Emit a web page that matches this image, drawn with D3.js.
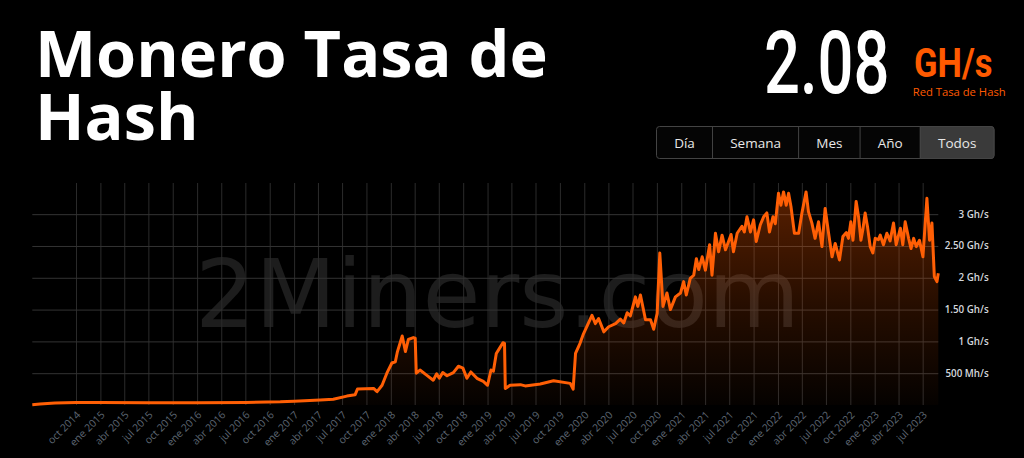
<!DOCTYPE html>
<html><head><meta charset="utf-8">
<script src="https://cdn.jsdelivr.net/npm/d3@7"></script>
<style>html,body{margin:0;padding:0;background:#000;overflow:hidden}</style>
</head><body>
<svg id="c" width="1024" height="458"></svg>
<script>
// ---------------- DATA ----------------
const titleLines = ["Monero Tasa de", "Hash"];
const currentValue = "2.08";
const currentUnit = "GH/s";
const subtitle = "Red Tasa de Hash";
const periods = ["Día", "Semana", "Mes", "Año", "Todos"];
const activePeriod = "Todos";
const watermark = "2Miners.com";
const monthNames = ["ene","feb","mar","abr","may","jun","jul","ago","sep","oct","nov","dic"];
const yTicks = [0.5, 1, 1.5, 2, 2.5, 3];
const yTickLabels = ["500 Mh/s", "1 Gh/s", "1.50 Gh/s", "2 Gh/s", "2.50 Gh/s", "3 Gh/s"];
const xTickFirst = "2014-10-01";
const xTickLast = "2023-07-01";
const xDomain = ["2014-04-19", "2023-08-29"];
const yMax = 3.49;
const dates = [
 "2014-04-19","2014-05-18","2014-07-14","2014-10-01","2015-01-01","2015-07-01","2016-01-01","2016-07-01",
 "2016-11-10","2017-01-01","2017-04-09","2017-05-29","2017-07-19","2017-08-19","2017-08-28","2017-10-28",
 "2017-11-10","2017-11-29","2017-12-17","2018-01-05","2018-01-18","2018-01-26","2018-02-13","2018-02-25",
 "2018-03-08","2018-03-27","2018-04-03","2018-04-07","2018-04-21","2018-05-16","2018-06-10","2018-06-23",
 "2018-07-03","2018-07-16","2018-08-01","2018-08-25","2018-09-13","2018-09-30","2018-10-15","2018-10-30",
 "2018-11-22","2018-12-16","2019-01-01","2019-01-14","2019-01-23","2019-02-03","2019-02-15","2019-02-28",
 "2019-03-06","2019-03-09","2019-03-27","2019-05-05","2019-05-23","2019-07-19","2019-09-07","2019-11-09",
 "2019-11-20","2019-11-29","2019-12-16","2019-12-29","2020-01-30","2020-02-12","2020-02-24","2020-03-15",
 "2020-04-02","2020-04-28","2020-05-16","2020-05-29","2020-06-11","2020-06-23","2020-07-12","2020-07-21",
 "2020-07-31","2020-08-19","2020-09-07","2020-09-19","2020-10-02","2020-10-12","2020-10-24","2020-11-08",
 "2020-11-21","2020-12-10","2020-12-29","2021-01-10","2021-01-20","2021-02-04","2021-02-17","2021-02-27",
 "2021-03-08","2021-03-21","2021-04-02","2021-04-18","2021-04-27","2021-05-10","2021-05-22","2021-06-04",
 "2021-06-17","2021-07-08","2021-07-17","2021-07-31","2021-08-18","2021-08-27","2021-09-06","2021-09-19",
 "2021-10-01","2021-10-11","2021-10-26","2021-11-08","2021-11-20","2021-11-30","2021-12-13","2021-12-22",
 "2022-01-03","2022-01-12","2022-01-22","2022-02-01","2022-02-10","2022-02-19","2022-03-04","2022-03-20",
 "2022-04-01","2022-04-17","2022-04-26","2022-05-09","2022-05-21","2022-06-03","2022-06-16","2022-06-28",
 "2022-07-11","2022-07-24","2022-08-05","2022-08-21","2022-09-03","2022-09-16","2022-09-24","2022-10-03",
 "2022-10-11","2022-10-23","2022-11-01","2022-11-10","2022-11-17","2022-11-26","2022-12-05","2022-12-15",
 "2022-12-25","2023-01-03","2023-01-15","2023-01-22","2023-02-03","2023-02-16","2023-02-28","2023-03-13",
 "2023-03-23","2023-04-08","2023-04-17","2023-04-26","2023-05-09","2023-05-18","2023-05-28","2023-06-07",
 "2023-06-19","2023-07-02","2023-07-17","2023-07-27","2023-08-05","2023-08-14","2023-08-24","2023-08-29"
];
const hashrate = [ // GH/s
 0.005,0.015,0.03,0.04,0.04,0.035,0.035,0.04,
 0.05,0.06,0.08,0.09,0.14,0.16,0.25,0.26,
 0.21,0.31,0.50,0.66,0.68,0.84,1.085,0.84,
 1.03,1.06,1.05,0.50,0.55,0.47,0.39,0.49,
 0.42,0.51,0.46,0.51,0.61,0.58,0.42,0.52,
 0.42,0.37,0.31,0.55,0.53,0.81,0.89,0.98,
 0.97,0.26,0.31,0.32,0.30,0.33,0.38,0.34,
 0.25,0.81,0.97,1.12,1.41,1.28,1.36,1.15,
 1.23,1.28,1.35,1.29,1.45,1.40,1.70,1.55,
 1.73,1.34,1.34,1.19,1.44,2.39,1.55,1.76,
 1.50,1.70,1.76,1.94,1.73,1.99,2.04,2.30,
 2.13,2.33,2.12,2.52,2.04,2.70,2.41,2.67,
 2.44,2.68,2.41,2.70,2.81,2.72,2.96,2.72,
 2.91,2.57,2.83,2.96,3.02,2.72,2.96,2.85,
 3.33,3.14,3.35,3.14,3.33,3.12,2.70,2.70,
 3.01,3.35,3.04,2.86,2.62,2.88,2.49,3.09,
 2.70,2.33,2.54,2.28,2.65,2.71,2.62,2.88,
 2.59,3.20,2.96,2.59,2.75,3.02,2.80,2.49,
 2.39,2.62,2.60,2.67,2.52,2.70,2.58,2.86,
 2.52,2.78,2.52,2.88,2.62,2.46,2.62,2.49,
 2.59,2.33,3.25,2.59,2.86,2.02,1.94,2.07
];

// ---------------- LAYOUT ----------------
const W = 1024, H = 458;
const plot = {left: 32.3, right: 938.3, top: 183, bottom: 405};
const ORANGE = "#ff5a00";
const parse = d3.timeParse("%Y-%m-%d");
const data = dates.map((d, i) => ({date: parse(d), v: hashrate[i]}));

const svg = d3.select("#c");
svg.append("rect").attr("width", W).attr("height", H).attr("fill", "#000");

function fit(sel, targetW) {
  const w = sel.node().getComputedTextLength();
  return targetW / w;
}

// Title
const t1 = svg.append("text").attr("x", 35).attr("y", 77)
  .attr("font-family", "'Open Sans', sans-serif").attr("font-weight", 700)
  .attr("font-size", 66).attr("fill", "#fff").text(titleLines[0]);
const s = fit(t1, 513);
t1.attr("font-size", 66 * s);
svg.append("text").attr("x", 35).attr("y", 140)
  .attr("font-family", "'Open Sans', sans-serif").attr("font-weight", 700)
  .attr("font-size", 66 * s).attr("fill", "#fff").text(titleLines[1]);

// Big value
const big = svg.append("text").attr("font-family", "Roboto, sans-serif").attr("font-weight", 500)
  .attr("font-size", 88).attr("fill", "#fff").text(currentValue);
const bs = fit(big, 125.5);
big.attr("transform", `translate(764,93.3) scale(${bs},1)`);

// unit: drawn at smaller nominal size and stretched vertically to keep its box compact
const unit = svg.append("text").attr("font-family", "Roboto, sans-serif").attr("font-weight", 700)
  .attr("font-size", 34).attr("fill", ORANGE).text(currentUnit);
const us = fit(unit, 78.5);
unit.attr("transform", `translate(914,76.7) scale(${us},${41/34})`);

const sub = svg.append("text").attr("x", 912.7).attr("y", 96)
  .attr("font-family", "'Open Sans', sans-serif").attr("font-size", 12.5)
  .attr("fill", ORANGE).text(subtitle);
sub.attr("font-size", 12.5 * fit(sub, 93));

// Buttons
const btnG = svg.append("g");
const bx0 = 656.5, bx1 = 994, by = 126.5, bh = 32;
const tmp = periods.map(p => {
  const t = btnG.append("text").attr("font-family", "'Open Sans', sans-serif").attr("font-size", 13.5).text(p);
  const w = t.node().getComputedTextLength(); t.remove(); return w;
});
const pad = ((bx1 - bx0) - d3.sum(tmp)) / periods.length;
let cx = bx0;
const edges = tmp.map(w => { const a = cx; cx += w + pad; return [a, cx]; });
btnG.append("rect").attr("x", bx0).attr("y", by).attr("width", bx1 - bx0).attr("height", bh)
  .attr("rx", 3).attr("fill", "#050505").attr("stroke", "#444");
periods.forEach((p, i) => {
  const [a, b] = edges[i];
  if (p === activePeriod) {
    btnG.append("path").attr("d", `M${a},${by}H${b-3}Q${b},${by} ${b},${by+3}V${by+bh-3}Q${b},${by+bh} ${b-3},${by+bh}H${a}Z`)
      .attr("fill", "#3a3a3a").attr("stroke", "#444");
  }
  if (i > 0) btnG.append("line").attr("x1", a).attr("x2", a).attr("y1", by).attr("y2", by + bh).attr("stroke", "#444");
  btnG.append("text").attr("x", (a + b) / 2).attr("y", by + 21)
    .attr("text-anchor", "middle").attr("font-family", "'Open Sans', sans-serif").attr("font-size", 13.5)
    .attr("fill", "#e8e8e8").text(p);
});

// Scales
const x = d3.scaleTime().domain(xDomain.map(parse)).range([plot.left, plot.right]);
const y = d3.scaleLinear().domain([0, yMax]).range([plot.bottom, plot.top]);

// Watermark
const wm = svg.append("text").attr("font-family", "'DejaVu Sans', sans-serif").attr("font-size", 100)
  .attr("fill", "#1d1d1d").text(watermark);
const ws = fit(wm, 605);
wm.attr("x", 195).attr("y", 327).attr("font-size", 100 * ws);

// X axis + vertical grid
const xTicks = d3.timeMonth.every(3).range(parse(xTickFirst), d3.timeDay.offset(parse(xTickLast), 1));
const xAxis = d3.axisBottom(x).tickValues(xTicks)
  .tickFormat(d => monthNames[d.getMonth()] + " " + d.getFullYear())
  .tickSize(-(plot.bottom - plot.top)).tickPadding(0);
const gx = svg.append("g").attr("transform", `translate(0,${plot.bottom})`).call(xAxis);
gx.select(".domain").remove();
gx.selectAll(".tick line").attr("stroke", "#2b2b2b").attr("stroke-width", 1);
gx.selectAll(".tick text")
  .attr("font-family", "'Open Sans', sans-serif").attr("font-size", 10.3).attr("fill", "#5d6672")
  .attr("text-anchor", "end").attr("dy", "0.35em").attr("y", 0)
  .attr("transform", "translate(2,8) rotate(-45)");

// Y axis + horizontal grid
const yAxis = d3.axisRight(y).tickValues(yTicks).tickFormat((d, i) => yTickLabels[i])
  .tickSize(-(plot.right - plot.left)).tickPadding(0);
const gy = svg.append("g").attr("transform", `translate(${plot.right},0)`).call(yAxis);
gy.select(".domain").remove();
gy.selectAll(".tick line").attr("stroke", "#333").attr("stroke-width", 1);
gy.selectAll(".tick text")
  .attr("font-family", "'Open Sans', sans-serif").attr("font-size", 9.8).attr("font-weight", 600)
  .attr("fill", "#d4d7dd").attr("text-anchor", "end").attr("x", 988.7 - plot.right).attr("dy", "0.3em");

// Gradient
const defs = svg.append("defs");
const grad = defs.append("linearGradient").attr("id", "g").attr("gradientUnits", "userSpaceOnUse")
  .attr("x1", 0).attr("x2", 0).attr("y1", plot.top).attr("y2", plot.bottom);
grad.append("stop").attr("offset", 0).attr("stop-color", ORANGE).attr("stop-opacity", 0.36);
grad.append("stop").attr("offset", 0.55).attr("stop-color", ORANGE).attr("stop-opacity", 0.15);
grad.append("stop").attr("offset", 1).attr("stop-color", ORANGE).attr("stop-opacity", 0.02);

const area = d3.area().x(d => x(d.date)).y0(y(0)).y1(d => y(d.v));
const line = d3.line().x(d => x(d.date)).y(d => y(d.v));
svg.append("path").datum(data).attr("d", area).attr("fill", "url(#g)");
svg.append("path").datum(data).attr("d", line).attr("fill", "none")
  .attr("stroke", "#ff5f05").attr("stroke-width", 3).attr("stroke-linejoin", "round");
</script>
</body></html>
